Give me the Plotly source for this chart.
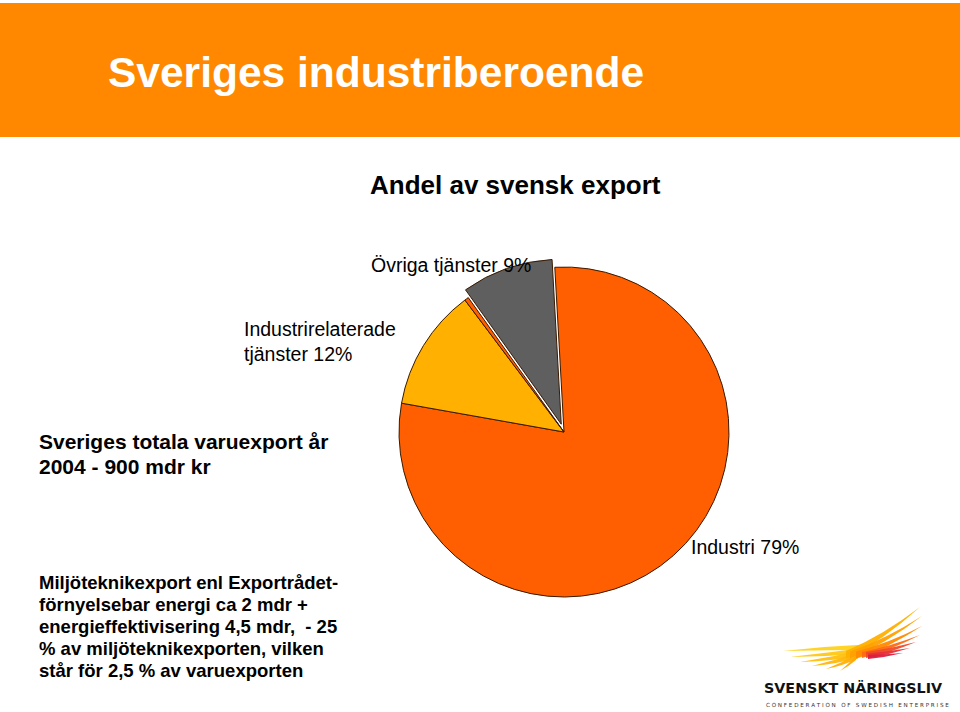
import plotly.graph_objects as go

W, H = 960, 712

# Slice data
labels = ["Industri", "Industrirelaterade tjänster", "Miljöteknik", "Övriga tjänster"]
values = [79, 12, 0.4, 9]
slice_colors = ["#FF5F00", "#FFB000", "#FF5F00", "#5F5F5F"]
pulls = [0, 0, 0, 0.05]

label_texts = ["Industri 79%", "Industrirelaterade<br>tjänster 12%", "Övriga tjänster 9%"]

left_lines = ["Sveriges totala varuexport år", "2004 - 900 mdr kr"]
note_lines = [
    "Miljöteknikexport enl Exportrådet-",
    "förnyelsebar energi ca 2 mdr +",
    "energieffektivisering 4,5 mdr,  - 25",
    "% av miljöteknikexporten, vilken",
    "står för 2,5 % av varuexporten",
]


def px(x):
    return x / W


def py(y):
    return 1 - y / H


def feather(tip, base, bend, w):
    # tapered curved stroke from tip to base (pixel coords -> paper)
    (x0, y0), (x2, y2) = tip, base
    cxp, cyp = (x0 + x2) / 2, (y0 + y2) / 2 + bend
    return (f"M {px(x0)} {py(y0)} Q {px(cxp)} {py(cyp - w / 3)} {px(x2)} {py(y2 - w / 2)} "
            f"L {px(x2)} {py(y2 + w / 2)} Q {px(cxp)} {py(cyp + w / 3)} {px(x0)} {py(y0)} Z")


arial = "Liberation Sans, Arial, sans-serif"

# pie centre and radius in pixels; domain is enlarged for the pull
cx, cy, r = 564, 432, 165
half = r * (1 + max(pulls))

fig = go.Figure()
fig.add_trace(go.Pie(
    labels=labels,
    values=values,
    sort=False,
    direction="clockwise",
    rotation=-3.2,
    pull=pulls,
    marker=dict(colors=slice_colors, line=dict(color="#3A1A00", width=1)),
    textinfo="none",
    hoverinfo="label+percent",
    showlegend=False,
    domain=dict(x=[px(cx - half), px(cx + half)], y=[py(cy + half), py(cy - half)]),
))

shapes = [
    # orange header bar
    dict(type="rect", xref="paper", yref="paper", x0=0, x1=1, y0=py(137), y1=py(3),
         fillcolor="#FF8800", line=dict(width=0), layer="below"),
]

# Svenskt Näringsliv bird: yellow tail feathers and orange/red wing
tail = [
    ((783, 651), (874, 647), -1, 6, "#FFD21A"),
    ((790, 657), (870, 650), 1, 6, "#FFC814"),
    ((800, 662), (866, 652), 2, 6, "#FFC010"),
    ((812, 666), (862, 654), 2, 6, "#FFB80C"),
    ((826, 669), (858, 656), 2, 5, "#FFB008"),
    ((840, 671), (856, 658), 1, 4, "#FFA800"),
]
wing = [
    ((920, 607), (846, 655), 7, 8, "#FFB000"),
    ((922, 616), (850, 655), 6, 7, "#FFA000"),
    ((922, 626), (856, 655), 5, 7, "#FF8A00"),
    ((920, 635), (862, 655), 3, 6, "#FF6A10"),
    ((916, 642), (866, 655), 2, 6, "#F04A28"),
    ((910, 648), (868, 656), 1, 5, "#E63036"),
    ((903, 653), (868, 657), 1, 4, "#DC2040"),
]
for tip, base, bend, w, col in tail + wing:
    shapes.append(dict(type="path", xref="paper", yref="paper", path=feather(tip, base, bend, w),
                       fillcolor=col, line=dict(width=0), opacity=0.95))

annotations = [
    dict(text="<b>Sveriges industriberoende</b>", x=px(106), y=py(73),
         font=dict(family=arial, size=42.5, color="white")),
    dict(text="<b>Andel av svensk export</b>", x=px(368), y=py(185),
         font=dict(family=arial, size=26, color="black")),
    dict(text=label_texts[2], x=px(369), y=py(265),
         font=dict(family=arial, size=19.5, color="black")),
    dict(text=label_texts[1], x=px(242), y=py(341),
         font=dict(family=arial, size=19.5, color="black")),
    dict(text=label_texts[0], x=px(689), y=py(547),
         font=dict(family=arial, size=19.5, color="black")),
    dict(text="<b>SVENSKT NÄRINGSLIV</b>", x=px(762), y=py(688),
         font=dict(family="DejaVu Sans, Verdana, sans-serif", size=14.3, color="#111111")),
    dict(text="C O N F E D E R A T I O N   O F   S W E D I S H   E N T E R P R I S E", x=px(764), y=py(705),
         font=dict(family="DejaVu Sans, sans-serif", size=5.6, color="#333333")),
]

for i, line in enumerate(left_lines):
    annotations.append(dict(text=f"<b>{line}</b>", x=px(37), y=py(441 + i * 25),
                            font=dict(family=arial, size=21, color="black")))
for i, line in enumerate(note_lines):
    annotations.append(dict(text=f"<b>{line}</b>", x=px(37), y=py(582 + i * 22),
                            font=dict(family=arial, size=18.5, color="black")))

for a in annotations:
    a.update(xref="paper", yref="paper", xanchor="left", yanchor="middle",
             showarrow=False, align="left")

fig.update_layout(
    width=W,
    height=H,
    margin=dict(l=0, r=0, t=0, b=0),
    paper_bgcolor="white",
    plot_bgcolor="white",
    shapes=shapes,
    annotations=annotations,
)

fig.write_html("out.html", config={"displayModeBar": False},
               post_script="document.body.style.margin='0';")
